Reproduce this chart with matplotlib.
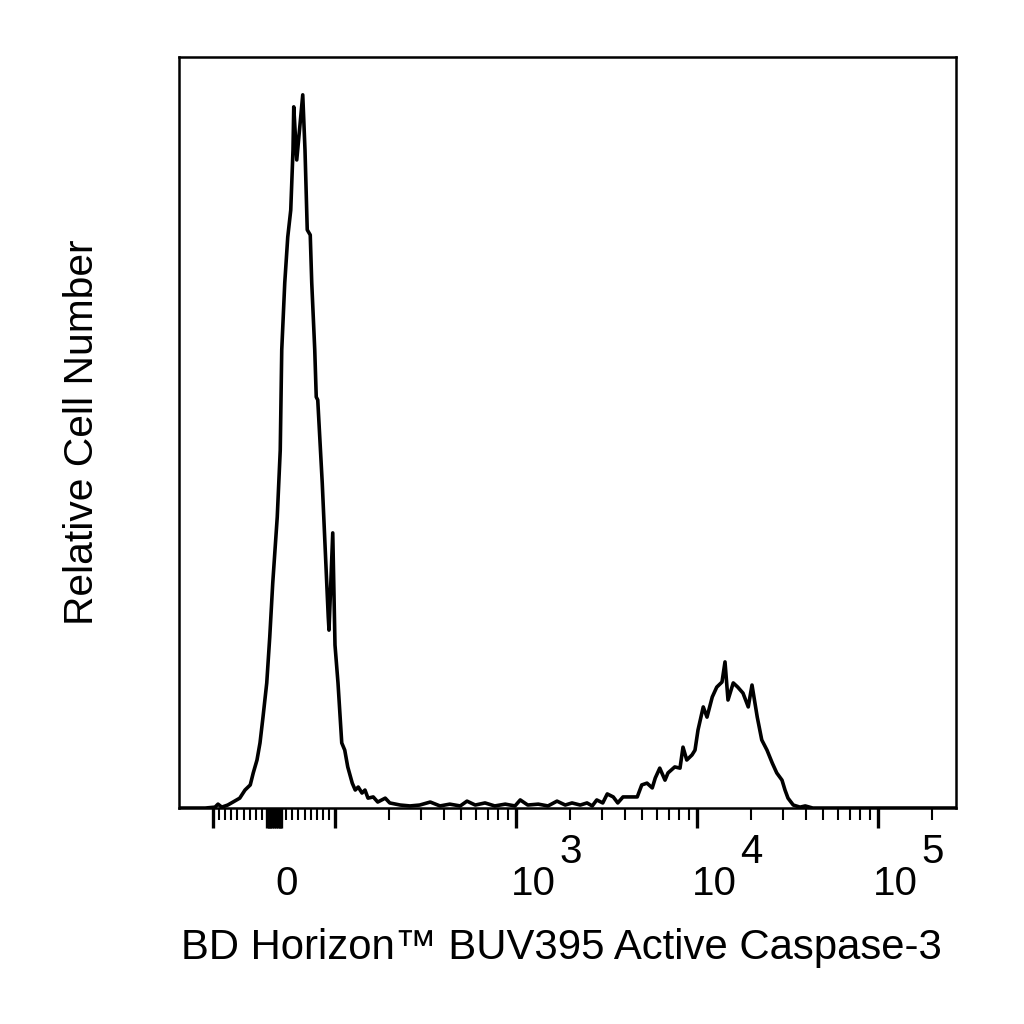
import numpy as np
import matplotlib
matplotlib.use("Agg")
import matplotlib.pyplot as plt

plt.rcParams["font.family"] = ["Liberation Sans", "DejaVu Sans"]

# histogram in display channels (biexponential axis), relative cell counts
channel = [0, 35, 48, 52, 57, 65, 72, 81, 88, 95, 99, 104, 108, 112, 117, 121, 125, 131,
           135, 137, 141, 145, 149, 152, 153, 157, 165, 168, 171, 175, 177, 181, 183, 185,
           191, 195, 199, 200, 205, 208, 212, 217, 221, 225, 231, 235, 239, 244, 248, 252,
           259, 265, 275, 281, 295, 308,
           321, 335, 348, 361, 375, 384, 395, 408, 421, 435, 448, 455, 465, 479, 492, 504,
           515, 524,
           535, 544, 551, 557, 565, 571, 579, 585, 592, 601, 611, 617, 624, 631, 635, 641,
           648, 652, 661, 668, 672, 677, 684, 688, 692, 699, 704, 711, 717, 724, 728, 732,
           739, 745, 752, 759, 764, 771, 777, 784, 791, 797, 804, 808, 812, 819, 828, 835,
           845, 1036]
counts = [0, 0, 0.3, 1.3, 0.3, 1.0, 2.0, 3.3, 6.0, 7.7, 11.7, 16.0, 21.7, 30.3, 41.7, 57.0,
          75.0, 97.0, 119.3, 152.7, 175.0, 190.3, 199.3, 219.3, 233.7, 216.0, 237.7, 219.3,
          192.7, 191.0, 175.0, 152.7, 137.0, 136.0, 108.3, 86.0, 63.7, 59.3, 91.7, 54.3,
          41.7, 21.7, 19.3, 13.7, 8.3, 6.0, 7.0, 5.0, 6.0, 3.3, 3.7, 2.0, 3.3, 1.7, 1.0, 0.7,
          1.0, 2.0, 0.7, 1.3, 0.7, 2.3, 1.0, 1.7, 0.7, 1.3, 0.7, 2.7, 1.0, 1.3, 0.7, 2.3,
          1.0, 1.7,
          1.0, 1.7, 0.7, 2.7, 1.7, 4.7, 3.7, 1.7, 3.7, 3.7, 3.7, 7.7, 8.3, 6.7, 10.0, 13.3,
          9.3, 11.7, 13.7, 13.3, 20.3, 16.0, 17.7, 19.3, 26.0, 33.7, 30.3, 37.0, 40.3, 42.0,
          48.7, 36.0, 41.7, 40.3, 38.3, 33.7, 41.0, 30.3, 22.7, 19.3, 15.0, 11.7, 9.3, 6.0,
          3.3, 1.0, 0.3, 0.7, 0, 0]

major_values = [-100, -12, -9, -6, -3, 0, 3, 6, 9, 12, 100, 1e3, 1e4, 1e5]
minor_values = ([-90, -80, -70, -60, -50, -40, -30, -20, 20, 30, 40, 50, 60, 70, 80, 90]
                + [m * 10 ** e for e in (2, 3, 4) for m in range(2, 10)] + [2e5])
label_values = [0, 1e3, 1e4, 1e5]
label_bases = ["0", "10", "10", "10"]
label_powers = ["", "3", "4", "5"]

ZERO_CH = 126.7
LIN_CH = 0.813      # channels per unit in the linear part
DECADE_CH = 241.3   # channels per decade


def to_channel(v):
    v = np.asarray(v, dtype=float)
    a = np.abs(v)
    log_part = 100 * LIN_CH + DECADE_CH * np.log10(np.maximum(a, 100) / 100)
    return np.where(a <= 100, ZERO_CH + LIN_CH * v, ZERO_CH + np.sign(v) * log_part)


fig = plt.figure(figsize=(10.24, 10.24), dpi=100)
ax = fig.add_axes([0.1748, 0.2109, 0.7588, 0.7334])

ax.plot(channel, counts, color="black", lw=2.6, solid_joinstyle="round")

ax.set_xlim(0, 1036)
ax.set_ylim(0, 250.3)
ax.set_yticks([])
for s in ax.spines.values():
    s.set_linewidth(1.8)

ax.set_xticks(to_channel(major_values))
ax.set_xticks(to_channel(minor_values), minor=True)
ax.tick_params(axis="x", which="major", direction="out", length=14.5, width=2.4,
               labelbottom=False)
ax.tick_params(axis="x", which="minor", direction="out", length=8.5, width=1.5)

tick_font = dict(fontsize=29, color="black")
for v, base, power in zip(label_values, label_bases, label_powers):
    x = float(to_channel(v))
    if power:
        ax.annotate(base, xy=(x, 0), xycoords=("data", "axes fraction"),
                    xytext=(-5, -87), textcoords="offset pixels",
                    ha="left", va="baseline", **tick_font)
        ax.annotate(power, xy=(x, 0), xycoords=("data", "axes fraction"),
                    xytext=(43, -55), textcoords="offset pixels",
                    ha="left", va="baseline", **tick_font)
    else:
        ax.annotate(base, xy=(x, 0), xycoords=("data", "axes fraction"),
                    xytext=(13, -87), textcoords="offset pixels",
                    ha="center", va="baseline", **tick_font)

fig.text(561 / 1024, 1 - 959 / 1024, "BD Horizon\u2122 BUV395 Active Caspase-3",
         ha="center", va="baseline", fontsize=30.2)
fig.text(82 / 1024, 1 - 432 / 1024, "Relative Cell Number",
         ha="center", va="center", rotation=90, fontsize=29.3)

fig.savefig("out.png", dpi=100)
